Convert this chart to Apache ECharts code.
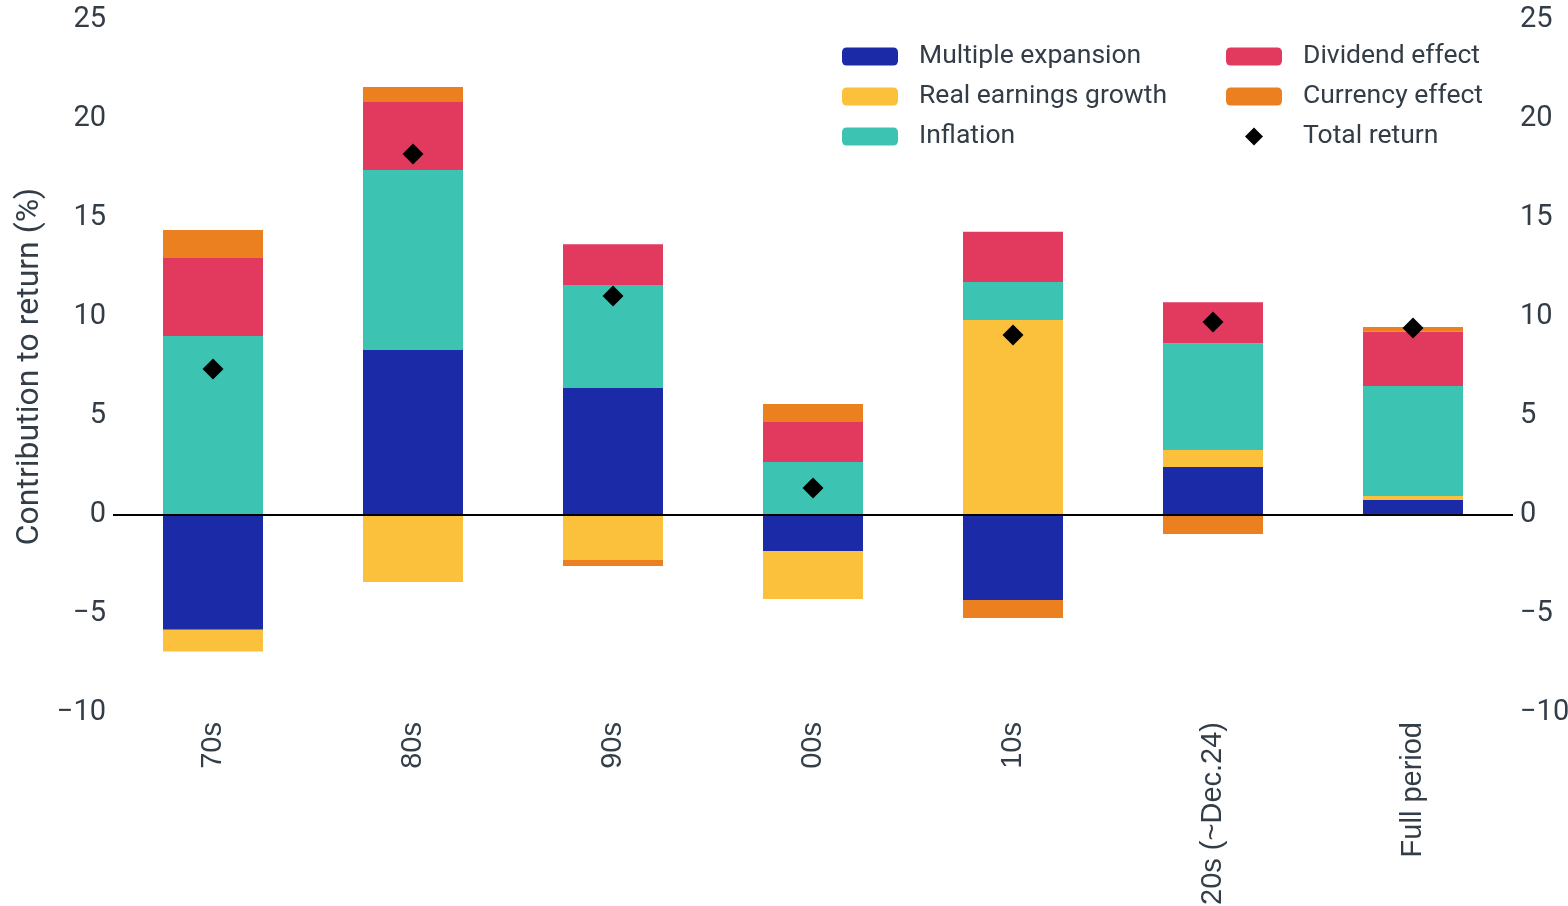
<!DOCTYPE html>
<html><head><meta charset="utf-8">
<script src="https://cdn.jsdelivr.net/npm/echarts@6/dist/echarts.min.js"></script>
<style>html,body{margin:0;padding:0;background:#fff}#c{width:1568px;height:906px}</style>
</head><body><div id="c"></div>
<script>
const categories = ['70s', '80s', '90s', '00s', '10s', '20s (~Dec.24)', 'Full period'];
const multipleExpansion = [-5.8, 8.33, 6.41, -1.82, -4.29, 2.42, 0.76];
const realEarnings = [-1.1, -3.38, -2.27, -2.42, 9.85, 0.86, 0.2];
const inflation = [9.04, 9.09, 5.2, 2.68, 1.92, 5.4, 5.56];
const dividendEffect = [3.94, 3.48, 2.07, 2.02, 2.53, 2.07, 2.73];
const currencyEffect = [1.41, 0.71, -0.3, 0.91, -0.91, -0.96, 0.25];
const totalReturn = [7.37, 18.23, 11.06, 1.36, 9.09, 9.75, 9.44];
const yTicks = {min: -10, max: 25, interval: 5};

const txt = '#333d47';
const font = 'Roboto';
const chart = echarts.init(document.getElementById('c'));
const bar = (name, data, color) => ({
  name, type: 'bar', stack: 'total', data, barWidth: 100,
  itemStyle: {color}, emphasis: {disabled: true}
});
const yAxisBase = {
  type: 'value', min: yTicks.min, max: yTicks.max, interval: yTicks.interval,
  splitLine: {show: false}, axisLine: {show: false}, axisTick: {show: false},
  axisLabel: {color: txt, fontSize: 29, fontFamily: font, margin: 7,
    formatter: v => String(v).replace('-', '\u2212')}
};
const legendBase = {
  top: 43, orient: 'vertical', itemWidth: 56, itemHeight: 18, itemGap: 13, padding: 0,
  symbolKeepAspect: true,
  textStyle: {fontSize: 26.5, fontFamily: font, color: txt, padding: [0, 0, 0, 16]}
};
chart.setOption({
  animation: false,
  backgroundColor: '#fff',
  grid: {left: 113, right: 55, top: 20, bottom: 193, containLabel: false, outerBoundsMode: 'none'},
  legend: [
    Object.assign({}, legendBase, {left: 842,
      data: ['Multiple expansion', 'Real earnings growth', 'Inflation']}),
    Object.assign({}, legendBase, {left: 1226,
      data: ['Dividend effect', 'Currency effect',
        {name: 'Total return', icon: 'path://M0,-1L1,0L0,1L-1,0Z'}]})
  ],
  xAxis: {
    type: 'category', data: categories,
    axisLine: {show: false}, axisTick: {show: false},
    axisLabel: {rotate: 90, color: txt, fontSize: 29, fontFamily: 'Liberation Sans', margin: 9}
  },
  yAxis: [
    Object.assign({}, yAxisBase, {position: 'left', name: 'Contribution to return (%)',
      nameLocation: 'middle', nameGap: 65, nameRotate: 90,
      nameTextStyle: {color: txt, fontSize: 32, fontFamily: font}}),
    Object.assign({}, yAxisBase, {position: 'right'})
  ],
  series: [
    Object.assign(bar('Multiple expansion', multipleExpansion, '#1b2aa6'), {
      markLine: {silent: true, symbol: 'none', label: {show: false},
        lineStyle: {color: '#000', width: 2, type: 'solid'}, data: [{yAxis: 0}]}
    }),
    bar('Real earnings growth', realEarnings, '#fbc13c'),
    bar('Inflation', inflation, '#3dc3b1'),
    bar('Dividend effect', dividendEffect, '#e2395f'),
    bar('Currency effect', currencyEffect, '#ea801f'),
    {name: 'Total return', type: 'scatter', data: totalReturn, symbol: 'diamond',
     symbolSize: 21, itemStyle: {color: '#000', opacity: 1}, z: 5, emphasis: {disabled: true}}
  ]
});
</script></body></html>
